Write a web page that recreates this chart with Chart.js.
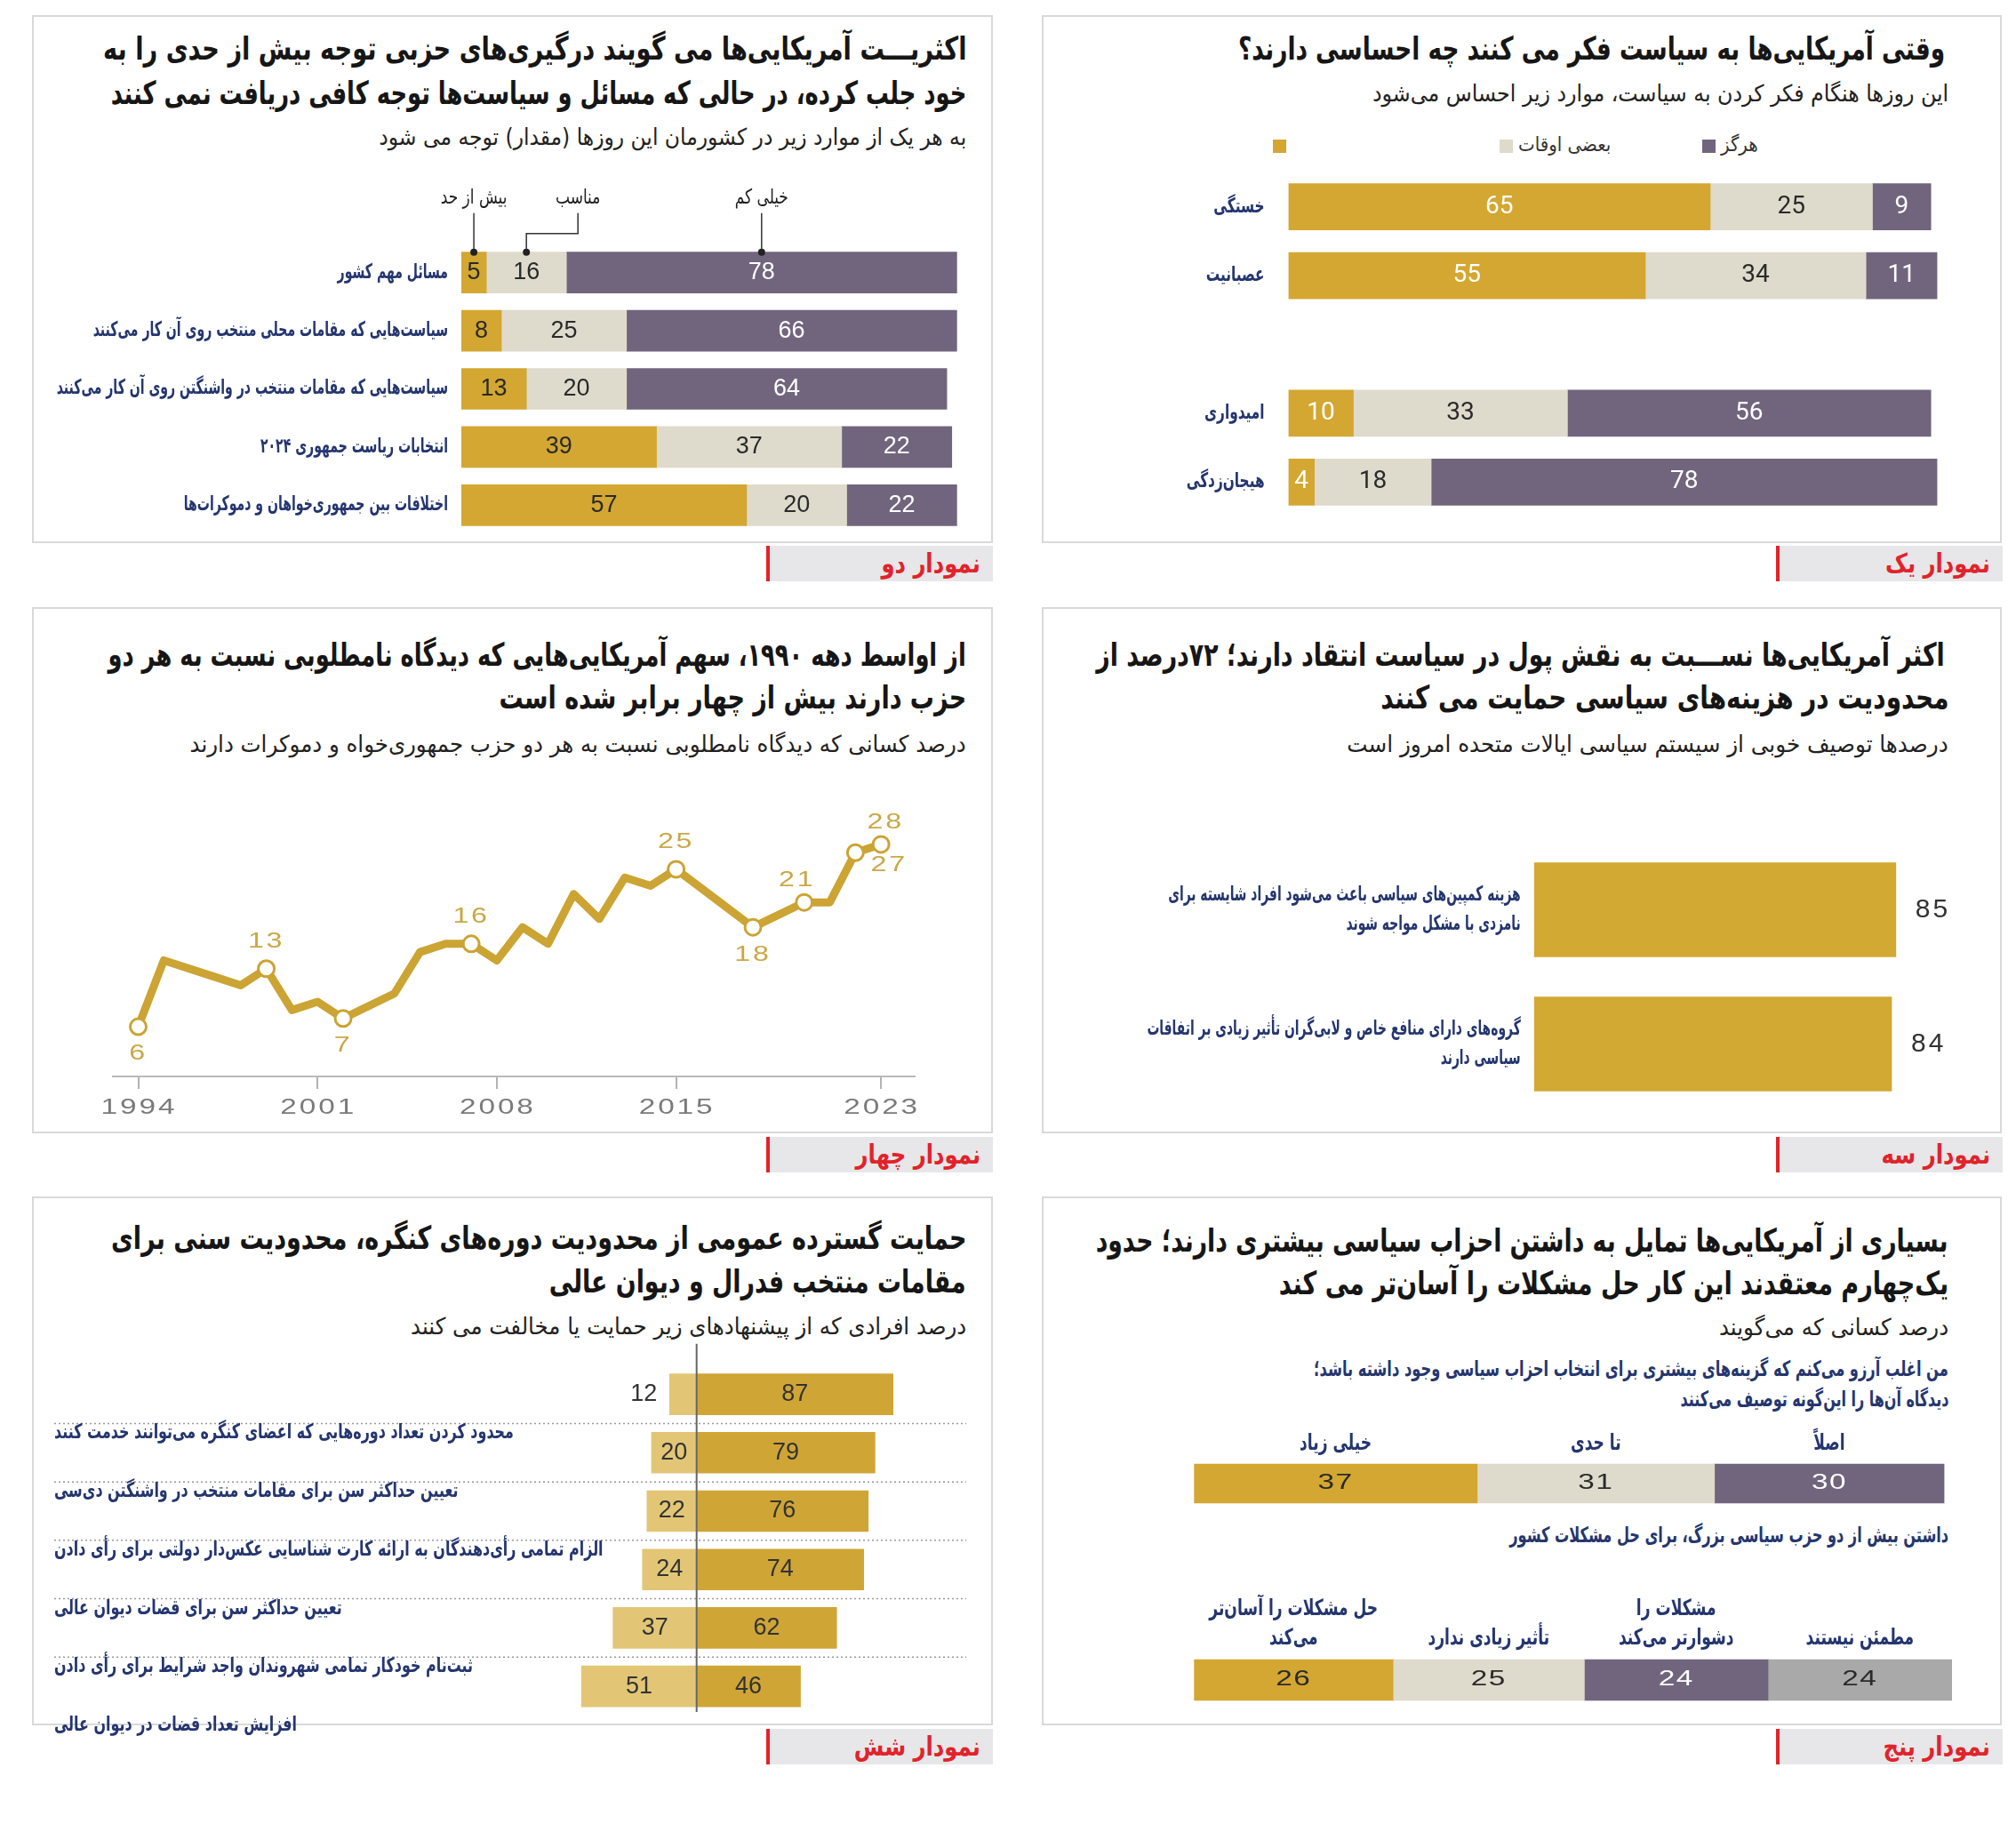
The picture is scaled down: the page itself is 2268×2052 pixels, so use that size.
<!DOCTYPE html>
<html lang="fa">
<head>
<meta charset="utf-8">
<title>نمودارها</title>
<script src="https://cdn.jsdelivr.net/npm/chart.js@4.4.1/dist/chart.umd.min.js"></script>
<style>
  body { margin:0; width:2268px; height:2052px; background:#fff; position:relative; overflow:hidden;
         font-family:"DejaVu Sans Condensed","DejaVu Sans",sans-serif; }
  .box { position:absolute; border:2px solid #d9d9d9; box-sizing:border-box; }
  .tab { position:absolute; width:255px; height:40px; background:#e7e7e9; border-left:4px solid #e1232b; box-sizing:border-box; }
  .tab span { position:absolute; right:14px; top:50%; transform:translateY(-52%) scaleX(0.9); transform-origin:100% 50%;
              direction:rtl; white-space:nowrap; color:#e1232b; font-weight:bold; font-size:30px; }
  .t { position:absolute; direction:rtl; white-space:nowrap; line-height:1; transform-origin:100% 50%; transform:translateY(-50%); }
  .ttl { font-weight:bold; font-size:36px; color:#161616; }
  .sub { font-size:26px; color:#222; }
  .nv { font-weight:bold; font-size:24px; color:#25366f; }
  .lgt { font-size:22px; color:#333; }
  .sq { position:absolute; width:15px; height:15px; }
  .cw { position:absolute; }
</style>
</head>
<body>

<!-- panels -->
<div class="box" style="left:36px;top:17px;width:1081px;height:594px"></div>
<div class="box" style="left:1172px;top:17px;width:1080px;height:594px"></div>
<div class="box" style="left:36px;top:683px;width:1081px;height:592px"></div>
<div class="box" style="left:1172px;top:683px;width:1080px;height:592px"></div>
<div class="box" style="left:36px;top:1346px;width:1081px;height:595px"></div>
<div class="box" style="left:1172px;top:1346px;width:1080px;height:595px"></div>

<div class="tab" style="left:1998px;top:614px"><span>نمودار یک</span></div>
<div class="tab" style="left:862px;top:614px"><span>نمودار دو</span></div>
<div class="tab" style="left:1998px;top:1279px"><span>نمودار سه</span></div>
<div class="tab" style="left:862px;top:1279px"><span>نمودار چهار</span></div>
<div class="tab" style="left:1998px;top:1945px"><span>نمودار پنج</span></div>
<div class="tab" style="left:862px;top:1945px"><span>نمودار شش</span></div>

<!-- chart 1 texts -->
<div class="t ttl" style="right:80px;top:55px" data-w="795">وقتی آمریکایی‌ها به سیاست فکر می کنند چه احساسی دارند؟</div>
<div class="t sub" style="right:76px;top:105px" data-w="648">این روزها هنگام فکر کردن به سیاست، موارد زیر احساس می‌شود</div>
<div id="legend1"></div>

<!-- chart 2 texts -->
<div class="t ttl" style="right:1181px;top:55px" data-w="971">اکثریـــت آمریکایی‌ها می گویند درگیری‌های حزبی توجه بیش از حدی را به</div>
<div class="t ttl" style="right:1181px;top:105px" data-w="962">خود جلب کرده، در حالی که مسائل و سیاست‌ها توجه کافی دریافت نمی کنند</div>
<div class="t sub" style="right:1181px;top:154px" data-w="661">به هر یک از موارد زیر در کشورمان این روزها (مقدار) توجه می شود</div>

<!-- chart 4 texts -->
<div class="t ttl" style="right:1181px;top:737px" data-w="965">از اواسط دهه ۱۹۹۰، سهم آمریکایی‌هایی که دیدگاه نامطلوبی نسبت به هر دو</div>
<div class="t ttl" style="right:1181px;top:785px" data-w="526">حزب دارند بیش از چهار برابر  شده است</div>
<div class="t sub" style="right:1181px;top:837px" data-w="873">درصد کسانی که دیدگاه نامطلوبی نسبت به هر دو حزب جمهوری‌خواه و دموکرات دارند</div>

<!-- chart 3 texts -->
<div class="t ttl" style="right:80px;top:737px" data-w="955">اکثر آمریکایی‌ها نســـبت به نقش پول در سیاست انتقاد دارند؛ ۷۲درصد از</div>
<div class="t ttl" style="right:76px;top:785px" data-w="639">محدودیت در هزینه‌های سیاسی حمایت می کنند</div>
<div class="t sub" style="right:76px;top:837px" data-w="676">درصدها توصیف خوبی از سیستم سیاسی ایالات متحده امروز است</div>

<!-- chart 5 texts -->
<div class="t ttl" style="right:76px;top:1396px" data-w="959">بسیاری از آمریکایی‌ها تمایل به داشتن احزاب سیاسی بیشتری دارند؛ حدود</div>
<div class="t ttl" style="right:76px;top:1444px" data-w="753">یک‌چهارم معتقدند این کار حل مشکلات را آسان‌تر می کند</div>
<div class="t sub" style="right:76px;top:1493px" data-w="258">درصد کسانی که می‌گویند</div>
<div class="t nv" style="right:76px;top:1540px" data-w="714">من اغلب آرزو می‌کنم که گزینه‌های بیشتری برای انتخاب احزاب سیاسی وجود داشته باشد؛</div>
<div class="t nv" style="right:76px;top:1574px" data-w="302">دیدگاه آن‌ها را این‌گونه توصیف می‌کنند</div>
<div class="t nv" style="right:76px;top:1727px" data-w="494">داشتن بیش از دو حزب سیاسی بزرگ، برای حل مشکلات کشور</div>

<!-- chart 6 texts -->
<div class="t ttl" style="right:1181px;top:1393px" data-w="963">حمایت گسترده عمومی از محدودیت دوره‌های کنگره، محدودیت سنی برای</div>
<div class="t ttl" style="right:1181px;top:1442px" data-w="469">مقامات منتخب فدرال و دیوان عالی</div>
<div class="t sub" style="right:1181px;top:1492px" data-w="625">درصد افرادی که از پیشنهادهای زیر حمایت یا مخالفت می کنند</div>

<div class="cw" id="w1"><canvas id="c1"></canvas></div>
<div class="cw" id="w2"><canvas id="c2"></canvas></div>
<div class="cw" id="w3"><canvas id="c3"></canvas></div>
<div class="cw" id="w4"><canvas id="c4"></canvas></div>
<div class="cw" id="w5"><canvas id="c5"></canvas></div>
<div class="cw" id="w5b"><canvas id="c5b"></canvas></div>
<div class="cw" id="w6"><canvas id="c6"></canvas></div>

<script>
// ---- data ----
// chart 1: feelings about politics
const feelCats = ['خستگی', 'عصبانیت', '', 'امیدواری', 'هیجان‌زدگی'];
const feelSeries = ['', 'بعضی اوقات', 'هرگز'];
const feelOften = [65, 55, null, 10, 4];
const feelSometimes = [25, 34, null, 33, 18];
const feelNever = [9, 11, null, 56, 78];

// chart 2: attention
const attnCats = ['مسائل مهم کشور', 'سیاست‌هایی که مقامات محلی منتخب روی آن کار می‌کنند',
  'سیاست‌هایی که مقامات منتخب در واشنگتن روی آن کار می‌کنند', 'انتخابات ریاست جمهوری ۲۰۲۴',
  'اختلافات بین جمهوری‌خواهان و دموکرات‌ها'];
const attnSeries = ['بیش از حد', 'مناسب', 'خیلی کم'];
const attnTooMuch = [5, 8, 13, 39, 57];
const attnRight = [16, 25, 20, 37, 20];
const attnTooLittle = [78, 66, 64, 22, 22];

// chart 3: money in politics
const moneyCats = [['هزینه کمپین‌های سیاسی باعث می‌شود افراد شایسته برای', 'نامزدی با مشکل مواجه شوند'],
  ['گروه‌های دارای منافع خاص و لابی‌گران تأثیر زیادی بر اتفاقات', 'سیاسی دارند']];
const moneyVals = [85, 84];

// chart 4: unfavorable view of both parties
const distYears = [1994, 1995, 1997, 1998, 1999, 2000, 2001, 2002, 2004, 2005, 2006, 2007, 2008,
  2009, 2010, 2011, 2012, 2013, 2014, 2015, 2018, 2020, 2021, 2022, 2023];
const distVals = [6, 14, 12, 11, 13, 8, 9, 7, 10, 15, 16, 16, 14, 18, 16, 22, 19, 24, 23, 25, 18, 21, 21, 27, 28];
const distMarked = [1994, 1999, 2002, 2007, 2015, 2018, 2020, 2022, 2023];
const distTicks = [1994, 2001, 2008, 2015, 2023];

// chart 5: more parties
const wishLevels = ['خیلی زیاد', 'تا حدی', 'اصلاً'];
const wishVals = [37, 31, 30];
const effectCats = [['حل مشکلات را آسان‌تر', 'می‌کند'], 'تأثیر زیادی ندارد', ['مشکلات را', 'دشوارتر می‌کند'], 'مطمئن نیستند'];
const effectVals = [26, 25, 24, 24];

// chart 6: reforms
const reformCats = ['محدود کردن تعداد دوره‌هایی که اعضای کنگره می‌توانند خدمت کنند',
  'تعیین حداکثر سن برای مقامات منتخب در واشنگتن دی‌سی',
  'الزام تمامی رأی‌دهندگان به ارائه کارت شناسایی عکس‌دار دولتی برای رأی دادن',
  'تعیین حداکثر سن برای قضات دیوان عالی',
  'ثبت‌نام خودکار تمامی شهروندان واجد شرایط برای رأی دادن',
  'افزایش تعداد قضات در دیوان عالی'];
const reformOppose = [12, 20, 22, 24, 37, 51];
const reformSupport = [87, 79, 76, 74, 62, 46];

// ---- styles ----
const GOLD = '#d3a731', BEIGE = '#dedbcc', PURPLE = '#71657e', GREY = '#a9a9a9';
const NAVY = '#25366f', DARK = '#2a2a2a', WHITE = '#ffffff';
const FA = '"DejaVu Sans Condensed","DejaVu Sans",sans-serif';
const NUM = '"Liberation Sans",Arial,sans-serif';

Chart.defaults.animation = false;
Chart.defaults.font.family = FA;

// fit html text lines to their measured widths in the reference
document.querySelectorAll('[data-w]').forEach(el => {
  const w = el.getBoundingClientRect().width;
  el.style.transform = 'translateY(-50%) scaleX(' + (+el.dataset.w / w).toFixed(3) + ')';
});

// legend of chart 1
(function () {
  const cols = [GOLD, BEIGE, PURPLE];
  const sqLeft = [1432, 1687, 1915];
  const lg = document.getElementById('legend1');
  feelSeries.forEach((name, i) => {
    const s = document.createElement('div');
    s.className = 'sq';
    s.style.cssText = 'left:' + sqLeft[i] + 'px;top:157px;background:' + cols[i];
    lg.appendChild(s);
    if (name) {
      const t = document.createElement('div');
      t.className = 't lgt';
      t.textContent = name;
      t.style.top = '163px';
      t.style.left = (sqLeft[i] + 21) + 'px';
      t.style.transformOrigin = '0 50%';
      lg.appendChild(t);
    }
  });
})();

function drawText(ctx, s, x, y, font, color, align, sx, spacing) {
  ctx.save();
  ctx.font = font;
  ctx.letterSpacing = (spacing || 0) + 'px';
  ctx.fillStyle = color;
  ctx.textBaseline = 'middle';
  ctx.direction = /[\u0600-\u06FF]/.test(s) ? 'rtl' : 'ltr';
  ctx.textAlign = 'left';
  const k = sx || 1;
  const w = ctx.measureText(s).width * k;
  const x0 = align === 'right' ? x - w : align === 'center' ? x - w / 2 : x;
  ctx.translate(x0, y);
  ctx.scale(k, 1);
  ctx.fillText(s, 0, 0);
  ctx.restore();
  return w;
}

function textWidth(ctx, s, font, spacing, sx) {
  ctx.save();
  ctx.font = font;
  ctx.letterSpacing = (spacing || 0) + 'px';
  const w = ctx.measureText(s).width * (sx || 1);
  ctx.restore();
  return w;
}

// numbers inside / next to bar segments
const barText = {
  id: 'barText',
  afterDatasetsDraw(chart, args, o) {
    const ctx = chart.ctx;
    chart.data.datasets.forEach((ds, di) => {
      chart.getDatasetMeta(di).data.forEach((el, i) => {
        const v = ds.data[i];
        if (v == null) return;
        const s = String(Math.abs(v));
        const tw = textWidth(ctx, s, o.font, o.spacing, o.sx);
        const lo = Math.min(el.x, el.base), hi = Math.max(el.x, el.base);
        let x = (lo + hi) / 2, align = 'center';
        if (o.atEnd) { x = hi + o.atEnd; align = 'left'; }
        else if (o.outside && hi - lo < tw + 10) { x = lo - o.outside; align = 'right'; }
        drawText(ctx, s, x, el.y, o.font, o.colors[di], align, o.sx, o.spacing);
      });
    });
  }
};

// category names to the left of the bars
const catText = {
  id: 'catText',
  afterDraw(chart, args, o) {
    const ys = chart.scales.y;
    chart.data.labels.forEach((lab, i) => {
      const lines = [].concat(lab);
      const yc = ys.getPixelForValue(i);
      lines.forEach((ln, k) => {
        if (!ln) return;
        const y = yc + (k - (lines.length - 1) / 2) * (o.lineHeight || 0);
        drawText(chart.ctx, ln, chart.chartArea.left - o.gap, y, o.font, o.color, 'right', o.sx);
      });
    });
  }
};

function makeChart(id, box, area, cfg) {
  const w = document.getElementById('w' + id);
  w.style.left = box[0] + 'px'; w.style.top = box[1] + 'px';
  w.style.width = box[2] + 'px'; w.style.height = box[3] + 'px';
  cfg.options.responsive = true;
  cfg.options.maintainAspectRatio = false;
  cfg.options.layout = { padding: {
    left: area[0] - box[0], top: area[1] - box[1],
    right: box[0] + box[2] - area[2], bottom: box[1] + box[3] - area[3] } };
  cfg.options.plugins = Object.assign({ legend: { display: false }, tooltip: { enabled: false } }, cfg.options.plugins);
  return new Chart(document.getElementById('c' + id), cfg);
}

function hbarScales(xmin, xmax) {
  return {
    x: { stacked: true, min: xmin, max: xmax, display: false },
    y: { stacked: true, display: false }
  };
}

function seg(label, data, color, thick) {
  return { label: label, data: data, backgroundColor: color, barThickness: thick, borderWidth: 0 };
}

// ---- chart 1 ----
makeChart('1', [1180, 180, 1020, 420], [1449.5, 194, 2179.5, 581], {
  type: 'bar',
  data: { labels: feelCats, datasets: [
    seg(feelSeries[0], feelOften, GOLD, 52),
    seg(feelSeries[1], feelSometimes, BEIGE, 52),
    seg(feelSeries[2], feelNever, PURPLE, 52)] },
  options: { indexAxis: 'y', scales: hbarScales(0, 100),
    plugins: {
      barText: { font: '28px Roboto', colors: [WHITE, DARK, WHITE] },
      catText: { font: 'bold 23px ' + FA, color: NAVY, gap: 27, sx: 0.74 } } },
  plugins: [barText, catText]
});

// ---- chart 2 ----
const attnNotes = {
  id: 'attnNotes',
  afterDatasetsDraw(chart, args, o) {
    const ctx = chart.ctx;
    chart.data.datasets.forEach((ds, di) => {
      const el = chart.getDatasetMeta(di).data[0];
      const cx = (el.x + el.base) / 2;
      const top = el.y - el.height / 2;
      const lx = cx + o.shift[di];
      ctx.save();
      ctx.strokeStyle = '#333'; ctx.lineWidth = 1.5;
      ctx.beginPath();
      ctx.moveTo(cx, top);
      if (o.shift[di]) {
        ctx.lineTo(cx, top - 21); ctx.lineTo(lx, top - 21); ctx.lineTo(lx, top - 44);
      } else {
        ctx.lineTo(cx, top - 44);
      }
      ctx.stroke();
      ctx.fillStyle = '#222';
      ctx.beginPath(); ctx.arc(cx, top, 4, 0, Math.PI * 2); ctx.fill();
      ctx.restore();
      drawText(ctx, ds.label, lx, top - 61, '23px ' + FA, '#222', 'center', 0.82);
    });
  }
};
makeChart('2', [40, 200, 1060, 410], [519, 274, 1082, 601], {
  type: 'bar',
  data: { labels: attnCats, datasets: [
    seg(attnSeries[0], attnTooMuch, GOLD, 46),
    seg(attnSeries[1], attnRight, BEIGE, 46),
    seg(attnSeries[2], attnTooLittle, PURPLE, 46)] },
  options: { indexAxis: 'y', scales: hbarScales(0, 100),
    plugins: {
      barText: { font: '27px ' + NUM, colors: [DARK, DARK, WHITE] },
      catText: { font: 'bold 23px ' + FA, color: NAVY, gap: 15, sx: 0.68 },
      attnNotes: { shift: [0, 58, 0] } } },
  plugins: [barText, catText, attnNotes]
});

// ---- chart 3 ----
makeChart('3', [1230, 930, 1000, 330], [1725.7, 948, 2204.7, 1250], {
  type: 'bar',
  data: { labels: moneyCats, datasets: [seg('', moneyVals, '#d2a932', 106)] },
  options: { indexAxis: 'y', scales: hbarScales(0, 100),
    plugins: {
      barText: { font: '30px ' + NUM, colors: ['#333'], atEnd: 22, spacing: 3 },
      catText: { font: 'bold 23px ' + FA, color: NAVY, gap: 15, sx: 0.67, lineHeight: 33 } } },
  plugins: [barText, catText]
});

// ---- chart 4 ----
const LINE_GOLD = '#cba433';
const WIDE = '"Liberation Sans",Arial,sans-serif';
const markShift = { 1994: [0, 31], 1999: [0, -30], 2002: [0, 31], 2007: [0, -30], 2015: [0, -30],
  2018: [0, 32], 2020: [-8, -25], 2022: [38, 14], 2023: [5, -24] };
const distLabels = {
  id: 'distLabels',
  afterDraw(chart) {
    const meta = chart.getDatasetMeta(0), xs = chart.scales.x;
    distYears.forEach((yr, i) => {
      if (!distMarked.includes(yr)) return;
      const el = meta.data[i], d = markShift[yr];
      drawText(chart.ctx, String(distVals[i]), el.x + d[0], el.y + d[1], '23px ' + WIDE, '#c9a845', 'center', 1.4, 2);
    });
    distTicks.forEach(yr => {
      drawText(chart.ctx, String(yr), xs.getPixelForValue(yr) + 1, chart.chartArea.bottom + 36,
        '23px ' + WIDE, '#7a7a7a', 'center', 1.45, 2);
    });
  }
};
makeChart('4', [90, 810, 980, 465], [126.7, 838, 1028.6, 1275], {
  type: 'line',
  data: { datasets: [{
    data: distYears.map((yr, i) => ({ x: yr, y: distVals[i] })),
    borderColor: LINE_GOLD, borderWidth: 9, borderJoinStyle: 'round', tension: 0, clip: false,
    pointRadius: c => distMarked.includes(distYears[c.dataIndex]) ? 9 : 0,
    pointBackgroundColor: '#fff', pointBorderColor: LINE_GOLD, pointBorderWidth: 3 }] },
  options: {
    scales: {
      x: { type: 'linear', min: 1993, max: 2024.3,
        afterBuildTicks: s => { s.ticks = distTicks.map(v => ({ value: v })); },
        afterFit: s => { s.height = 64; },
        ticks: { display: false },
        grid: { drawOnChartArea: false, drawTicks: true, tickLength: 14, color: '#b3b3b3', lineWidth: 2 },
        border: { display: true, color: '#b9b9b9', width: 2 } },
      y: { display: false, min: 0, max: 40 } } },
  plugins: [distLabels]
});

// ---- chart 5 ----
const segHeads = {
  id: 'segHeads',
  afterDatasetsDraw(chart, args, o) {
    chart.data.datasets.forEach((ds, di) => {
      const el = chart.getDatasetMeta(di).data[0];
      const cx = (el.x + el.base) / 2;
      const lines = [].concat(ds.label);
      lines.forEach((ln, k) => {
        const y = el.y - o.rise - (lines.length - 1 - k) * o.lineHeight;
        drawText(chart.ctx, ln, cx, y, 'bold 25px ' + FA, NAVY, 'center', 0.76);
      });
    });
  }
};
makeChart('5', [1300, 1580, 930, 125], [1343.3, 1639, 2204.3, 1699], {
  type: 'bar',
  data: { labels: [''], datasets: wishLevels.map((lab, i) =>
    seg(lab, [wishVals[i]], [GOLD, BEIGE, PURPLE][i], 44)) },
  options: { indexAxis: 'y', scales: hbarScales(0, 100),
    plugins: {
      barText: { font: '23px ' + WIDE, colors: [DARK, DARK, WHITE], spacing: 1, sx: 1.45 },
      segHeads: { rise: 45, lineHeight: 33 } } },
  plugins: [barText, segHeads]
});
makeChart('5b', [1300, 1760, 930, 170], [1343.3, 1860, 2204.3, 1920], {
  type: 'bar',
  data: { labels: [''], datasets: effectCats.map((lab, i) =>
    seg(lab, [effectVals[i]], [GOLD, BEIGE, PURPLE, GREY][i], 46)) },
  options: { indexAxis: 'y', scales: hbarScales(0, 100),
    plugins: {
      barText: { font: '23px ' + WIDE, colors: [DARK, DARK, WHITE, DARK], spacing: 1, sx: 1.45 },
      segHeads: { rise: 47, lineHeight: 33 } } },
  plugins: [barText, segHeads]
});

// ---- chart 6 ----
const reformFrame = {
  id: 'reformFrame',
  beforeDatasetsDraw(chart) {
    const ctx = chart.ctx, ys = chart.scales.y, a = chart.chartArea;
    const half = (ys.getPixelForValue(1) - ys.getPixelForValue(0)) / 2;
    ctx.save();
    ctx.strokeStyle = '#9a9a9a'; ctx.lineWidth = 1.5; ctx.setLineDash([2, 3]);
    for (let i = 0; i < reformCats.length - 1; i++) {
      const y = ys.getPixelForValue(i) + half;
      ctx.beginPath(); ctx.moveTo(a.left, y); ctx.lineTo(a.right, y); ctx.stroke();
    }
    ctx.restore();
  },
  afterDatasetsDraw(chart) {
    const ctx = chart.ctx, ys = chart.scales.y, a = chart.chartArea;
    const half = (ys.getPixelForValue(1) - ys.getPixelForValue(0)) / 2;
    const x0 = chart.scales.x.getPixelForValue(0);
    ctx.save();
    ctx.strokeStyle = '#666'; ctx.lineWidth = 2;
    ctx.beginPath(); ctx.moveTo(x0, a.top - 24); ctx.lineTo(x0, a.bottom - 4); ctx.stroke();
    ctx.restore();
    reformCats.forEach((lab, i) => {
      drawText(ctx, lab, a.left, ys.getPixelForValue(i) + half + 11, 'bold 23px ' + FA, NAVY, 'left', 0.77);
    });
  }
};
makeChart('6', [55, 1500, 1040, 470], [61, 1535.7, 1087, 1930], {
  type: 'bar',
  data: { labels: reformCats, datasets: [
    seg('مخالفت', reformOppose.map(v => -v), '#e2c676', 46),
    seg('حمایت', reformSupport, '#cfa536', 46)] },
  options: { indexAxis: 'y', scales: hbarScales(-284.5, 119.4),
    plugins: { barText: { font: '27px ' + NUM, colors: ['#333', '#333'], outside: 14 } } },
  plugins: [reformFrame, barText]
});
</script>
</body>
</html>
